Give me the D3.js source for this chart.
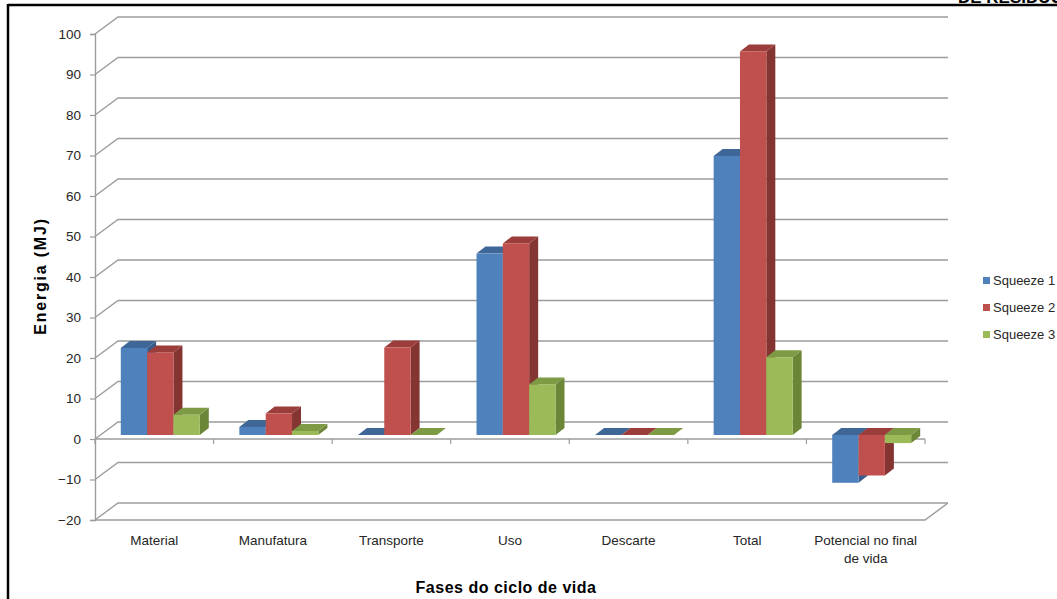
<!DOCTYPE html>
<html>
<head>
<meta charset="utf-8">
<script src="https://cdn.jsdelivr.net/npm/d3@7/dist/d3.min.js"></script>
<style>
  html, body { margin: 0; padding: 0; background: #fff; }
  svg { display: block; font-family: "Liberation Sans", Arial, sans-serif; }
</style>
</head>
<body>
<svg id="chart" width="1057" height="599"></svg>
<script>
// Energy per life-cycle phase (MJ), three packaging variants
const categories = ["Material", "Manufatura", "Transporte", "Uso", "Descarte", "Total", "Potencial no final de vida"];
const categoryLines = [["Material"], ["Manufatura"], ["Transporte"], ["Uso"], ["Descarte"], ["Total"], ["Potencial no final", "de vida"]];
const seriesNames = ["Squeeze 1", "Squeeze 2", "Squeeze 3"];
const squeeze1 = [21.5, 2, 0, 44.8, 0, 68.9, -11.8];
const squeeze2 = [20.4, 5.3, 21.6, 47.3, 0, 94.7, -10];
const squeeze3 = [5, 1, 0, 12.5, 0, 19.2, -2];
const yTicks = [-20, -10, 0, 10, 20, 30, 40, 50, 60, 70, 80, 90, 100];

const seriesValues = [squeeze1, squeeze2, squeeze3];
const palette = [
  { front: "#4F81BD", top: "#3E6797", side: "#385D8A" },
  { front: "#C0504D", top: "#9B3D3A", side: "#843532" },
  { front: "#9BBB59", top: "#7D9A44", side: "#6C8638" }
];

const svg = d3.select("#chart");

// Plot geometry: front plane of the box plus the oblique depth offset of the walls
const left = 95, right = 925;
const wallDX = 23, wallDY = -17;
const barDX = 6, barDY = -4;      // bar front plane sits slightly inside the box
const barDepthX = 9, barDepthY = -7;

const y = d3.scaleLinear().domain([-20, 100]).range([520, 34]);
const x = d3.scaleBand().domain(categories).range([left, right]);
const groupW = 79;
const xs = d3.scaleBand().domain(seriesNames).range([0, groupW]);

const grid = svg.append("g");
const gridColor = "#9c9c9c";

// Gridlines: side-wall diagonal then back wall horizontal
yTicks.forEach(t => {
  const yy = y(t);
  grid.append("path")
    .attr("d", `M${left},${yy} L${left + wallDX},${yy + wallDY} L${right + wallDX},${yy + wallDY}`)
    .attr("fill", "none").attr("stroke", gridColor).attr("stroke-width", 1.4);
});

// Floor front edge and right diagonal
const yFloor = y(-20);
grid.append("path")
  .attr("d", `M${left},${yFloor} L${right},${yFloor} L${right + wallDX},${yFloor + wallDY}`)
  .attr("fill", "none").attr("stroke", gridColor).attr("stroke-width", 1.4);

// Vertical value axis with ticks
const yAxis = svg.append("g").attr("transform", `translate(${left},0)`)
  .call(d3.axisLeft(y).tickValues(yTicks).tickSize(5).tickPadding(9));
yAxis.select(".domain").attr("stroke", gridColor).attr("stroke-width", 1.4);
yAxis.selectAll(".tick line").attr("stroke", gridColor).attr("stroke-width", 1.2);
yAxis.selectAll(".tick text")
  .attr("fill", "#262626")
  .style("font-size", "13.5px")
  .style("font-family", "'Liberation Sans', Arial, sans-serif");

// Category axis along zero, ticks between categories
const y0 = y(0);
const xAxis = svg.append("g").attr("transform", `translate(0,${y0})`);
xAxis.append("line").attr("x1", left).attr("x2", right).attr("y1", 0).attr("y2", 0)
  .attr("stroke", gridColor).attr("stroke-width", 1.4);
const boundaries = categories.map(c => x(c)).concat([right]);
xAxis.selectAll("line.tk").data(boundaries).join("line").attr("class", "tk")
  .attr("x1", d => d).attr("x2", d => d).attr("y1", 0).attr("y2", 5)
  .attr("stroke", gridColor).attr("stroke-width", 1.2);

// Category labels below the floor
const labels = svg.append("g");
categories.forEach((c, i) => {
  const cx = x(c) + x.bandwidth() / 2;
  const t = labels.append("text")
    .attr("x", cx).attr("y", 545)
    .attr("text-anchor", "middle")
    .attr("fill", "#262626")
    .style("font-size", "13.5px");
  categoryLines[i].forEach((line, k) => {
    t.append("tspan").attr("x", cx).attr("dy", k === 0 ? 0 : 18).text(line);
  });
});

// Bars: each drawn as side, top and front faces
const bars = svg.append("g");
categories.forEach((c, ci) => {
  seriesNames.forEach((s, si) => {
    const v = seriesValues[si][ci];
    const col = palette[si];
    const bx = x(c) + (x.bandwidth() - groupW) / 2 + xs(s) + barDX;
    const w = xs.bandwidth();
    const yBase = y(0) + barDY;
    const yVal = y(v) + barDY;
    const yTop = Math.min(yBase, yVal);
    const yBot = Math.max(yBase, yVal);
    const g = bars.append("g");
    // side face
    g.append("path")
      .attr("d", `M${bx + w},${yTop} L${bx + w + barDepthX},${yTop + barDepthY} L${bx + w + barDepthX},${yBot + barDepthY} L${bx + w},${yBot} Z`)
      .attr("fill", col.side);
    // top face
    g.append("path")
      .attr("d", `M${bx},${yTop} L${bx + barDepthX},${yTop + barDepthY} L${bx + w + barDepthX},${yTop + barDepthY} L${bx + w},${yTop} Z`)
      .attr("fill", col.top);
    // front face
    if (yBot - yTop > 0) {
      g.append("rect")
        .attr("x", bx).attr("y", yTop)
        .attr("width", w).attr("height", yBot - yTop)
        .attr("fill", col.front);
    }
  });
});

// Axis titles
svg.append("text")
  .attr("transform", `translate(46,276) rotate(-90)`)
  .attr("text-anchor", "middle")
  .attr("fill", "#000")
  .style("font-size", "16px").style("font-weight", "bold")
  .style("letter-spacing", "1.8px")
  .text("Energia (MJ)");

svg.append("text")
  .attr("x", 506).attr("y", 593)
  .attr("text-anchor", "middle")
  .attr("fill", "#000")
  .style("font-size", "16px").style("font-weight", "bold")
  .style("letter-spacing", "0.5px")
  .text("Fases do ciclo de vida");

// Legend
const legend = svg.append("g").attr("transform", "translate(983,277)");
seriesNames.forEach((s, i) => {
  const row = legend.append("g").attr("transform", `translate(0,${i * 27})`);
  row.append("rect").attr("width", 7).attr("height", 7).attr("fill", palette[i].front);
  row.append("text").attr("x", 10).attr("y", 8)
    .attr("fill", "#262626")
    .style("font-size", "13px")
    .text(s);
});

// Page frame and running header
svg.append("line").attr("x1", 8).attr("x2", 1057).attr("y1", 5).attr("y2", 5)
  .attr("stroke", "#000").attr("stroke-width", 2.5);
svg.append("line").attr("x1", 8).attr("x2", 8).attr("y1", 4).attr("y2", 599)
  .attr("stroke", "#000").attr("stroke-width", 2.5);
svg.append("text").attr("x", 958).attr("y", 3)
  .attr("fill", "#000")
  .style("font-size", "17px").style("font-weight", "bold")
  .text("DE RESÍDUOS");
</script>
</body>
</html>
